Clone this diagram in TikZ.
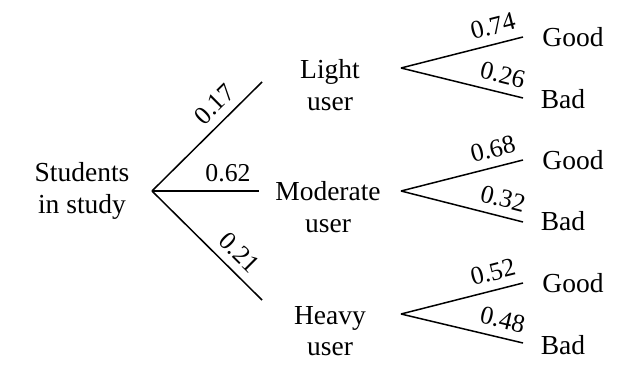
\documentclass[tikz,border=0pt]{standalone}
\usepackage{fontspec}
\setmainfont{Liberation Serif}
\usetikzlibrary{positioning}

\begin{document}
\begin{tikzpicture}[x=0.4pt, y=-0.4pt, line width=0.6pt,
  txt/.style={font=\fontsize{11}{12.5}\selectfont, align=center, inner sep=1pt},
  prob/.style={font=\fontsize{10.3}{12}\selectfont, sloped, above}]
  \useasboundingbox (0,0) rectangle (630,378);

  % Labels
  \node[txt] (stu) at (82,191) {Students\\in study};
  \node[txt] (light) at (330,85) {Light\\user};
  \node[txt] (moderate) at (328,207) {Moderate\\user};
  \node[txt] (heavy) at (330,331) {Heavy\\user};
  \node[txt] (lightgood) at (573,37) {Good};
  \node[txt] (lightbad) at (563,99) {Bad};
  \node[txt] (modgood) at (573,160) {Good};
  \node[txt] (modbad) at (563,221) {Bad};
  \node[txt] (heavygood) at (573,283) {Good};
  \node[txt] (heavybad) at (563,345) {Bad};

  % Branch points
  \coordinate (root) at (152,191);
  \coordinate (light-in) at (262,82);
  \coordinate (mod-in) at (259,191);
  \coordinate (heavy-in) at (262,300);
  \coordinate (light-out) at (401,68);
  \coordinate (mod-out) at (401,191);
  \coordinate (heavy-out) at (401,314);
  \coordinate (lg) at (523,37);
  \coordinate (lb) at (523,98);
  \coordinate (mg) at (523,160);
  \coordinate (mb) at (523,222);
  \coordinate (hg) at (523,283);
  \coordinate (hb) at (523,343);

  % First stage
  \draw (root) -- node[prob, pos=0.68] {0.17} (light-in);
  \draw (root) -- node[prob, pos=0.71] {0.62} (mod-in);
  \draw (root) -- node[prob, pos=0.68] {0.21} (heavy-in);

  % Second stage
  \draw (light-out) -- node[prob, pos=0.79] {0.74} (lg);
  \draw (light-out) -- node[prob, pos=0.8] {0.26} (lb);
  \draw (mod-out) -- node[prob, pos=0.79] {0.68} (mg);
  \draw (mod-out) -- node[prob, pos=0.8] {0.32} (mb);
  \draw (heavy-out) -- node[prob, pos=0.79] {0.52} (hg);
  \draw (heavy-out) -- node[prob, pos=0.8] {0.48} (hb);
\end{tikzpicture}
\end{document}
